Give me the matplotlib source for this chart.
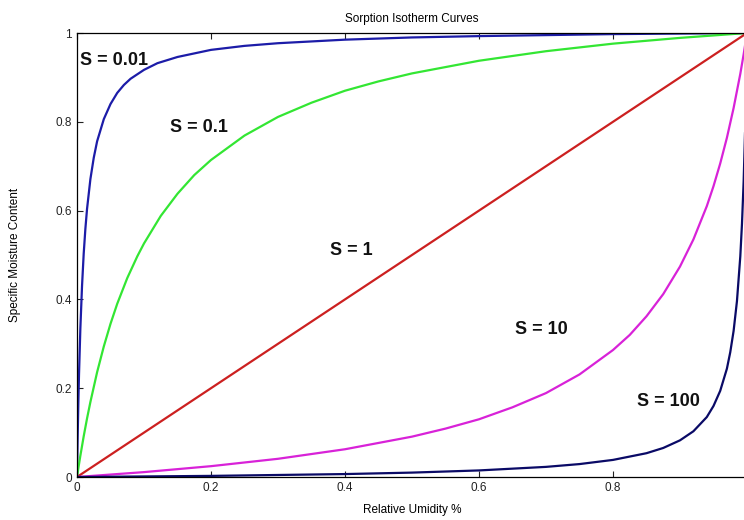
import matplotlib
matplotlib.use('agg')
import matplotlib.pyplot as plt

plt.rcParams['font.family'] = ['Liberation Sans', 'DejaVu Sans']

# curve S = 0.01 (relative humidity, moisture content)
rh_s001 = [0, 0.001, 0.002, 0.003, 0.005, 0.0075, 0.01, 0.0125, 0.015, 0.02,
           0.025, 0.03, 0.04, 0.05, 0.06, 0.07, 0.08, 0.1, 0.12, 0.15, 0.2,
           0.25, 0.3, 0.4, 0.5, 0.6, 0.8, 1.0]
mc_s001 = [0, 0.091, 0.167, 0.231, 0.334, 0.430, 0.503, 0.559, 0.604, 0.671,
           0.719, 0.756, 0.806, 0.840, 0.865, 0.883, 0.897, 0.917, 0.932,
           0.946, 0.962, 0.971, 0.977, 0.985, 0.990, 0.993, 0.9975, 1.0]

# curve S = 0.1
rh_s01 = [0, 0.0025, 0.005, 0.01, 0.015, 0.02, 0.03, 0.04, 0.05, 0.06, 0.075,
          0.09, 0.1, 0.125, 0.15, 0.175, 0.2, 0.25, 0.3, 0.35, 0.4, 0.45, 0.5,
          0.6, 0.7, 0.8, 0.9, 1.0]
mc_s01 = [0, 0.0245, 0.0478, 0.0917, 0.132, 0.169, 0.236, 0.294, 0.345, 0.390,
          0.448, 0.497, 0.526, 0.588, 0.638, 0.680, 0.714, 0.769, 0.811, 0.843,
          0.870, 0.891, 0.909, 0.9375, 0.959, 0.976, 0.989, 1.0]

# curve S = 1
rh_s1 = [0, 1.0]
mc_s1 = [0, 1.0]

# curve S = 10
rh_s10 = [0, 0.1, 0.2, 0.3, 0.4, 0.5, 0.55, 0.6, 0.65, 0.7, 0.75, 0.8, 0.825,
          0.85, 0.875, 0.9, 0.92, 0.94, 0.95, 0.96, 0.97, 0.98, 0.99, 0.995,
          1.0]
mc_s10 = [0, 0.011, 0.0244, 0.041, 0.0625, 0.0909, 0.109, 0.130, 0.157, 0.189,
          0.231, 0.286, 0.320, 0.362, 0.412, 0.474, 0.535, 0.610, 0.655, 0.706,
          0.764, 0.831, 0.908, 0.952, 1.0]

# curve S = 100
rh_s100 = [0, 0.2, 0.4, 0.5, 0.6, 0.7, 0.75, 0.8, 0.85, 0.875, 0.9, 0.92,
           0.94, 0.95, 0.96, 0.97, 0.975, 0.98, 0.985, 0.99, 0.9925, 0.995,
           0.9975, 1.0]
mc_s100 = [0, 0.0025, 0.0066, 0.0099, 0.0148, 0.0228, 0.0291, 0.0385, 0.0536,
           0.0654, 0.0826, 0.103, 0.135, 0.160, 0.194, 0.244, 0.281, 0.329,
           0.396, 0.497, 0.570, 0.666, 0.800, 1.0]

labels = ['S = 0.01', 'S = 0.1', 'S = 1', 'S = 10', 'S = 100']
colors = ['#1c1ca8', '#33e633', '#cc2020', '#d822d8', '#0a0a66']
label_pos = [(0.005, 0.939), (0.139, 0.788), (0.378, 0.511),
             (0.654, 0.333), (0.836, 0.169)]
ticks = [0, 0.2, 0.4, 0.6, 0.8, 1]
tick_labels = ['0', '0.2', '0.4', '0.6', '0.8', '1']

fig = plt.figure(figsize=(7.44, 5.2), dpi=100)
# axes run a little past the right edge, like the original screenshot
ax = fig.add_axes([77 / 744, 43 / 520, 670 / 744, 444 / 520])

curves = [(rh_s001, mc_s001), (rh_s01, mc_s01), (rh_s1, mc_s1),
          (rh_s10, mc_s10), (rh_s100, mc_s100)]
for (x, y), c in zip(curves, colors):
    ax.plot(x, y, color=c, lw=1.6)

for (tx, ty), lab in zip(label_pos, labels):
    ax.text(tx, ty, lab, fontsize=13, fontweight='bold', ha='left',
            va='center', color='#111111')

ax.set_xlim(0, 1)
ax.set_ylim(0, 1)
# the "1" on x falls off the right edge in the original, so leave it out
ax.set_xticks(ticks[:-1])
ax.set_xticklabels(tick_labels[:-1])
ax.set_yticks(ticks)
ax.set_yticklabels(tick_labels)
ax.tick_params(direction='in', length=4, width=0.8, labelsize=8.5,
               top=True, right=False, colors='#222222')
for sp in ax.spines.values():
    sp.set_linewidth(0.9)

ax.set_title('Sorption Isotherm Curves', fontsize=8.5, pad=8)
ax.set_xlabel('Relative Umidity %', fontsize=8.5)
ax.set_ylabel('Specific Moisture Content', fontsize=8.5)
ax.xaxis.set_label_coords(0.5, -0.061)
ax.yaxis.set_label_coords(-0.083, 0.5)

fig.savefig('out.png', dpi=100)
